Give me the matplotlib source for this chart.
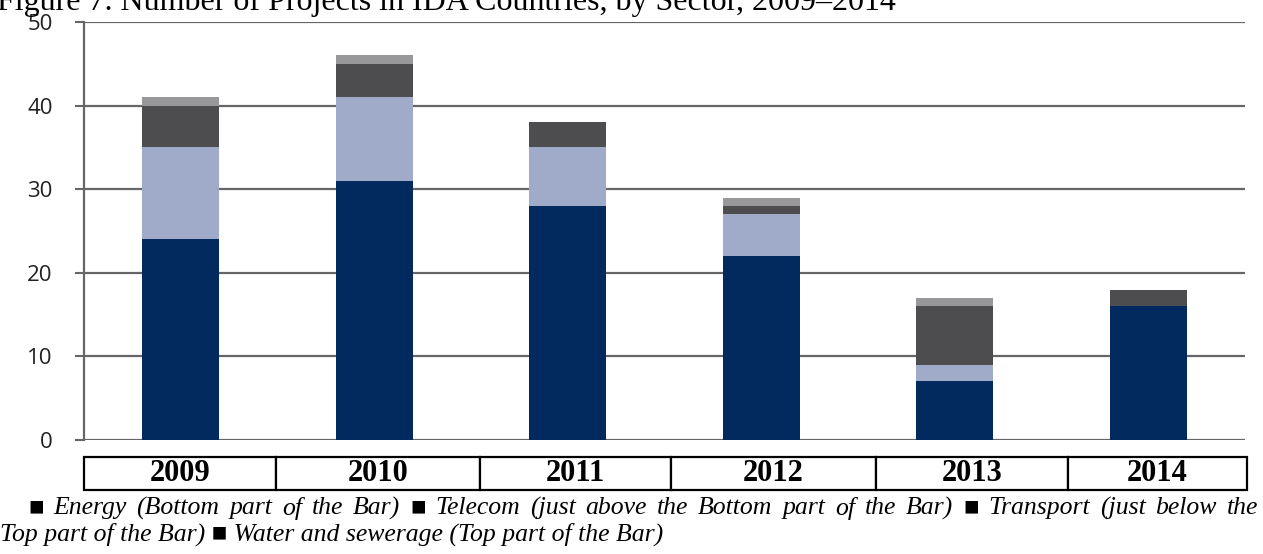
import matplotlib
matplotlib.use("Agg")
import matplotlib.pyplot as plt
import numpy as np

# data
years = ["2009", "2010", "2011", "2012", "2013", "2014"]
energy = [24, 31, 28, 22, 7, 16]
telecom = [11, 10, 7, 5, 2, 0]
transport = [5, 4, 3, 1, 7, 2]
water = [1, 1, 0, 1, 1, 0]

yticks = [0, 10, 20, 30, 40, 50]
title = "Figure 7. Number of Projects in IDA Countries, by Sector, 2009\u20132014"
legend_line1 = ("\u25a0 Energy (Bottom part of the Bar) \u25a0 Telecom (just above the Bottom part of the Bar) "
                "\u25a0 Transport (just below the")
legend_line2 = "Top part of the Bar) \u25a0 Water and sewerage (Top part of the Bar)"

colors = ["#022a5e", "#a0abc9", "#4d4d4f", "#98989a"]
grid_col = "#666666"

W, H = 1263, 554
fig = plt.figure(figsize=(W / 100, H / 100), dpi=100)

# main plot area (pixel layout)
left, right, top, bottom = 84, 1245, 22, 440
ax = fig.add_axes([left / W, 1 - bottom / H, (right - left) / W, (bottom - top) / H])

x = np.arange(len(years))
series = [energy, telecom, transport, water]
base = np.zeros(len(years))
for vals, c in zip(series, colors):
    ax.bar(x, vals, width=0.4, bottom=base, color=c, zorder=3)
    base += np.array(vals)

ax.set_xlim(-0.5, len(years) - 0.5)
ax.set_ylim(0, 50)
ax.set_yticks(yticks)
ax.set_yticklabels([str(t) for t in yticks], fontfamily="Open Sans", fontsize=16, color="#222222")
ax.set_xticks([])
ax.tick_params(axis="y", length=6.5, width=1.5, color=grid_col, pad=16)
for t in yticks:
    ax.axhline(t, color=grid_col, lw=1.6, zorder=1)
for s in ["top", "right", "bottom"]:
    ax.spines[s].set_visible(False)
ax.spines["left"].set_color(grid_col)
ax.spines["left"].set_linewidth(1.6)

# year table under the bars
tl, tr, tt, tb = 84, 1247, 457, 490
tax = fig.add_axes([tl / W, 1 - tb / H, (tr - tl) / W, (tb - tt) / H])
tax.axis("off")
edges = [84, 276, 480, 671, 876, 1068, 1247]
widths = np.diff(edges) / (tr - tl)
tbl = tax.table(cellText=[years], colWidths=widths, cellLoc="center", bbox=[0, 0, 1, 1])
tbl.auto_set_font_size(False)
for cell in tbl.get_celld().values():
    cell.set_linewidth(1.6)
    cell.set_edgecolor("black")
    cell.get_text().set_fontfamily("Liberation Serif")
    cell.get_text().set_fontweight("bold")
    cell.get_text().set_fontsize(22)

# title, cut at the top of the image
fig.text(-0.002, 1 - 10 / H, title, fontfamily="Liberation Serif", fontsize=23,
         ha="left", va="baseline")

# legend lines; first line is justified between x=28 and x=1258
fam = ["Liberation Serif", "DejaVu Serif"]
fsz = 18.5
renderer = fig.canvas.get_renderer()
words = legend_line1.split(" ")
txts = [fig.text(0, 1 - 508 / H, w, fontfamily=fam, fontstyle="italic", fontsize=fsz,
                 ha="left", va="center") for w in words]
wpx = [t.get_window_extent(renderer).width for t in txts]
gap = (1258 - 28 - sum(wpx)) / (len(words) - 1)
xpos = 28
for t, w in zip(txts, wpx):
    t.set_x(xpos / W)
    xpos += w + gap
fig.text(0, 1 - 534 / H, legend_line2, fontfamily=fam, fontstyle="italic",
         fontsize=fsz, ha="left", va="center")

fig.savefig("out.png", dpi=100)
